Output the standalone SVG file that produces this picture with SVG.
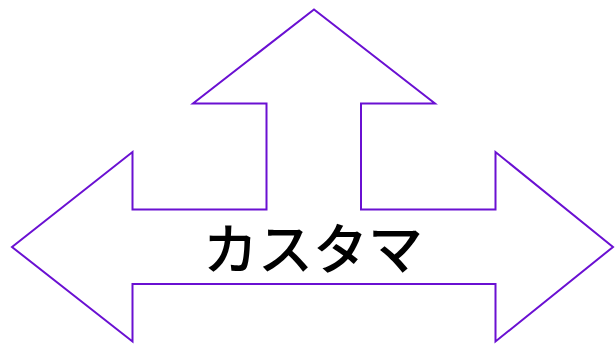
<svg xmlns="http://www.w3.org/2000/svg" width="615" height="347" viewBox="0 0 615 347">
<style>
.shape{fill:#ffffff;stroke:#6a10d2;stroke-width:2;stroke-linejoin:miter}
.label{font-family:"Noto Sans CJK JP","Noto Sans",sans-serif;font-size:55px;font-weight:500;fill:#000000}
</style>
<rect width="615" height="347" fill="#ffffff"/>
<g id="node-customer">
<path class="shape" d="M 12,247 L 132.5,152 L 132.5,209.5 L 266.5,209.5 L 266.5,103.5 L 193,103.5 L 314,9.5 L 435,103.5 L 361,103.5 L 361,209.5 L 495.5,209.5 L 495.5,152 L 613,247 L 495.5,341.5 L 495.5,284 L 132.5,284 L 132.5,341.5 Z"/>
<text class="label" x="313" y="269" text-anchor="middle">カスタマ</text>
</g>
<g id="connectors"></g>
</svg>
